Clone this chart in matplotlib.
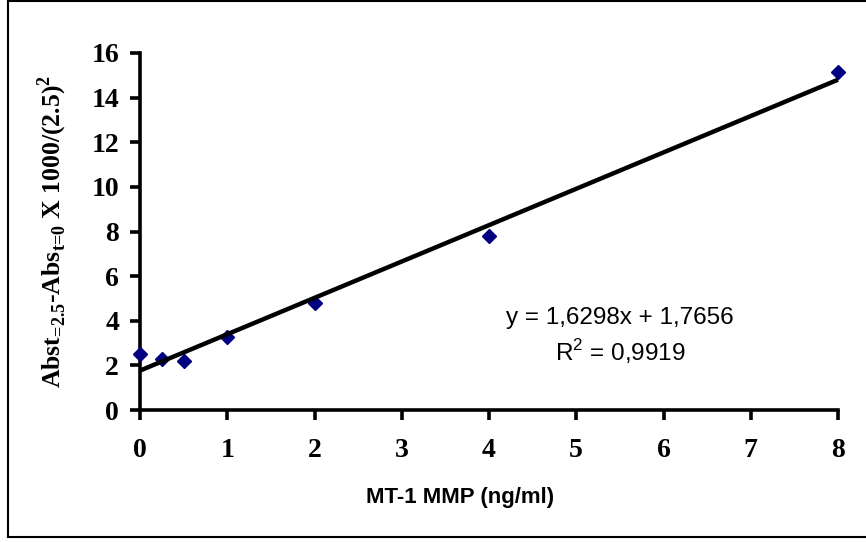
import numpy as np
import matplotlib.pyplot as plt
from matplotlib.lines import Line2D

plt.rcParams['mathtext.fontset'] = 'custom'
plt.rcParams['mathtext.rm'] = 'Liberation Serif:bold'
plt.rcParams['mathtext.bf'] = 'Liberation Serif:bold'
plt.rcParams['mathtext.sf'] = 'Liberation Sans'

# data
conc = [0, 0.25, 0.5, 1, 2, 4, 8]
signal = [2.5, 2.3, 2.2, 3.25, 4.8, 7.8, 15.15]
slope, intercept = 1.6298, 1.7656
r2 = 0.9919
xticks = [0, 1, 2, 3, 4, 5, 6, 7, 8]
yticks = [0, 2, 4, 6, 8, 10, 12, 14, 16]

fig = plt.figure(figsize=(8.66, 5.42), dpi=100)
ax = fig.add_axes([140/866, 1 - 410/542, 698/866, 357/542])

ax.plot(conc, signal, 'D', color='#000080', markersize=7, zorder=3, clip_on=False)
xf = np.array([0, 8])
ax.plot(xf, slope * xf + intercept, color='black', lw=3.2, zorder=4,
        solid_capstyle='butt', clip_on=False)

ax.set_xlim(0, 8)
ax.set_ylim(0, 16)
ax.set_xticks(xticks)
ax.set_yticks(yticks)
for s in ['top', 'right']:
    ax.spines[s].set_visible(False)
for s in ['left', 'bottom']:
    ax.spines[s].set_linewidth(2.6)
ax.tick_params(direction='out', length=7, width=2.6)
for lab in ax.get_xticklabels() + ax.get_yticklabels():
    lab.set_fontfamily('Liberation Serif')
    lab.set_fontweight('bold')
    lab.set_fontsize(20)
ax.tick_params(axis='x', pad=13)
ax.tick_params(axis='y', pad=8)

ax.set_xlabel('MT-1 MMP (ng/ml)', fontfamily='Liberation Sans', fontweight='bold',
              fontsize=16)
ax.xaxis.set_label_coords((460 - 140) / 698, -(498 - 410) / 357)
ax.xaxis.label.set_va('center')
ax.set_ylabel(r'Abst$_{\text{=2.5}}$-Abs$_{\text{t=0}}$ X 1000/(2.5)$^{\text{2}}$',
              fontfamily='Liberation Serif', fontweight='bold', fontsize=18.5, labelpad=16)

ax.text(5.5, 4.12, 'y = 1,6298x + 1,7656', fontfamily='Liberation Sans', fontsize=17.5,
        ha='center', va='center')
ax.text(5.5, 2.6, r'R$^{\mathsf{2}}$ = 0,9919', fontfamily='Liberation Sans', fontsize=17.5,
        ha='center', va='center')

# outer chart frame
x0, y0, y1 = 8/866, 1 - 537/542, 1 - 1/542
fig.add_artist(Line2D([x0, x0], [y0, y1], color='black', lw=1.5, transform=fig.transFigure))
fig.add_artist(Line2D([x0, 1], [y0, y0], color='black', lw=1.5, transform=fig.transFigure))
fig.add_artist(Line2D([x0, 1], [y1, y1], color='black', lw=1.5, transform=fig.transFigure))

fig.savefig('out.png', dpi=100)
